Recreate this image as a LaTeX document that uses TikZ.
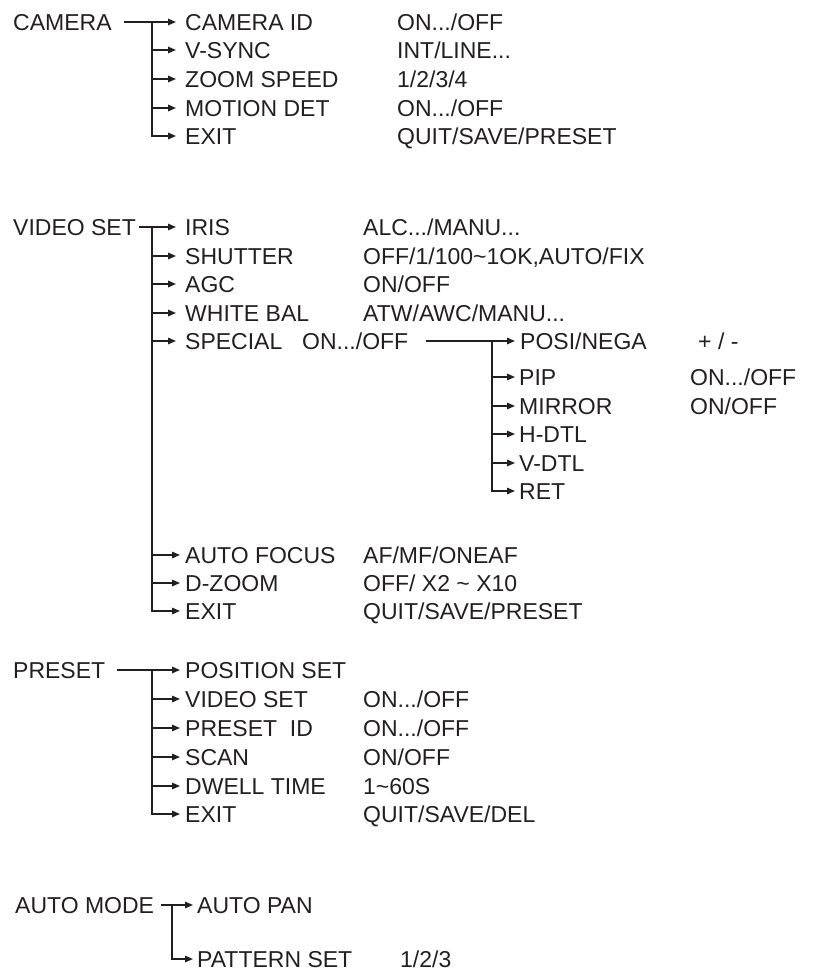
\documentclass[tikz,border=0pt]{standalone}
\usepackage{fontspec}
\setmainfont{Liberation Sans}
\usetikzlibrary{arrows.meta}
\definecolor{ink}{RGB}{35,31,32}
\begin{document}
\begin{tikzpicture}[x=1pt,y=-1pt,
  lbl/.style={anchor=west,inner sep=0pt,text height=16pt,text depth=0pt,
    font=\fontsize{23}{25}\selectfont,text=ink},
  ln/.style={draw=ink,line width=1.5pt},
  arr/.style={ln,-{Triangle[length=8pt,width=6.5pt]}}]
\useasboundingbox (0,0) rectangle (818,970);

% ---------- CAMERA ----------
\node[lbl] (cam) at (13,22) {CAMERA};
\node[lbl] (camid) at (185,22) {CAMERA ID};
\node[lbl] (vsync) at (185,50) {V-SYNC};
\node[lbl] (zoom) at (185,79) {ZOOM SPEED};
\node[lbl] (motion) at (185,108) {MOTION DET};
\node[lbl] (cexit) at (185,136) {EXIT};
\node[lbl] (camidv) at (397,22) {ON.../OFF};
\node[lbl] (vsyncv) at (397,50) {INT/LINE...};
\node[lbl] (zoomv) at (397,79) {1/2/3/4};
\node[lbl] (motionv) at (397,108) {ON.../OFF};
\node[lbl] (cexitv) at (397,136) {QUIT/SAVE/PRESET};
\coordinate (cj) at (152,22);
\draw[arr] ([xshift=12pt]cam.east) -- ([xshift=-9pt]camid.west);
\draw[arr] (cj) |- ([xshift=-9pt]cexit.west);
\foreach \n in {vsync,zoom,motion}
  \draw[arr] (cj |- \n.west) -- ([xshift=-9pt]\n.west);

% ---------- VIDEO SET ----------
\node[lbl] (vs) at (13,227) {VIDEO SET};
\node[lbl] (iris) at (185,227) {IRIS};
\node[lbl] (shut) at (185,256) {SHUTTER};
\node[lbl] (agc) at (185,284) {AGC};
\node[lbl] (wb) at (185,313) {WHITE BAL};
\node[lbl] (spec) at (185,341) {SPECIAL};
\node[lbl] (af) at (185,555) {AUTO FOCUS};
\node[lbl] (dz) at (185,583) {D-ZOOM};
\node[lbl] (vexit) at (185,611) {EXIT};
\node[lbl] (irisv) at (363,227) {ALC.../MANU...};
\node[lbl] (shutv) at (363,256) {OFF/1/100\textasciitilde 1OK,AUTO/FIX};
\node[lbl] (agcv) at (363,284) {ON/OFF};
\node[lbl] (wbv) at (363,313) {ATW/AWC/MANU...};
\node[lbl] (specv) at (302,341) {ON.../OFF};
\node[lbl] (afv) at (363,555) {AF/MF/ONEAF};
\node[lbl] (dzv) at (363,583) {OFF/ X2 \textasciitilde{} X10};
\node[lbl] (vexitv) at (363,611) {QUIT/SAVE/PRESET};
\coordinate (vj) at (152,227);
\draw[arr] ([xshift=3pt]vs.east) -- ([xshift=-9pt]iris.west);
\draw[arr] (vj) |- ([xshift=-5pt]vexit.west);
\foreach \n in {shut,agc,wb,spec}
  \draw[arr] (vj |- \n.west) -- ([xshift=-9pt]\n.west);
\foreach \n in {af,dz}
  \draw[arr] (vj |- \n.west) -- ([xshift=-5pt]\n.west);

% ---------- SPECIAL submenu ----------
\node[lbl] (posi) at (520,341) {POSI/NEGA};
\node[lbl] (pip) at (519,377) {PIP};
\node[lbl] (mir) at (519,406) {MIRROR};
\node[lbl] (hdtl) at (519,434) {H-DTL};
\node[lbl] (vdtl) at (519,463) {V-DTL};
\node[lbl] (ret) at (519,491) {RET};
\node[lbl] (posiv) at (698,341) {+ / -};
\node[lbl] (pipv) at (690,377) {ON.../OFF};
\node[lbl] (mirv) at (690,406) {ON/OFF};
\coordinate (sj) at (492,341);
\draw[arr] ([xshift=18pt]specv.east) -- ([xshift=-5pt]posi.west);
\draw[arr] (sj) |- ([xshift=-4pt]ret.west);
\foreach \n in {pip,mir,hdtl,vdtl}
  \draw[arr] (sj |- \n.west) -- ([xshift=-4pt]\n.west);

% ---------- PRESET ----------
\node[lbl] (pre) at (13,670) {PRESET};
\node[lbl] (pos) at (185,670) {POSITION SET};
\node[lbl] (pvs) at (185,699) {VIDEO SET};
\node[lbl] (pid) at (185,728) {PRESET\ \ ID};
\node[lbl] (scan) at (185,757) {SCAN};
\node[lbl] (dwell) at (185,786) {DWELL TIME};
\node[lbl] (pexit) at (185,814) {EXIT};
\node[lbl] (pvsv) at (363,699) {ON.../OFF};
\node[lbl] (pidv) at (363,728) {ON.../OFF};
\node[lbl] (scanv) at (363,757) {ON/OFF};
\node[lbl] (dwellv) at (363,786) {1\textasciitilde 60S};
\node[lbl] (pexitv) at (363,814) {QUIT/SAVE/DEL};
\coordinate (pj) at (152,670);
\draw[arr] ([xshift=12pt]pre.east) -- ([xshift=-5pt]pos.west);
\draw[arr] (pj) |- ([xshift=-5pt]pexit.west);
\foreach \n in {pvs,pid,scan,dwell}
  \draw[arr] (pj |- \n.west) -- ([xshift=-5pt]\n.west);

% ---------- AUTO MODE ----------
\node[lbl] (am) at (15,905) {AUTO MODE};
\node[lbl] (apan) at (197,905) {AUTO PAN};
\node[lbl] (pat) at (197,959) {PATTERN SET};
\node[lbl] (patv) at (400,959) {1/2/3};
\coordinate (aj) at (172,905);
\draw[arr] ([xshift=7pt]am.east) -- ([xshift=-4pt]apan.west);
\draw[arr] (aj) |- ([xshift=-4pt]pat.west);
\end{tikzpicture}
\end{document}
